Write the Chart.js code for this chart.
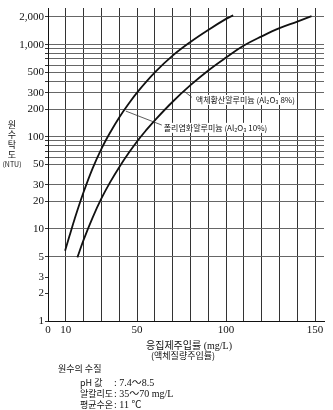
<!DOCTYPE html>
<html>
<head>
<meta charset="utf-8">
<script src="https://cdn.jsdelivr.net/npm/chart.js@4.4.0/dist/chart.umd.min.js"></script>
<style>
  body { margin: 0; background: #fff; }
  #wrap { position: relative; width: 333px; height: 410px; }
  .txt { position: absolute; color: #111; white-space: nowrap; font-family: "Liberation Serif", "Noto Sans CJK KR", serif; }
  .ko { font-family: "Noto Sans CJK KR", sans-serif; }
  .ytitle { left: 4px; top: 120px; width: 16px; font-size: 9px; line-height: 10px; text-align: center; }
  .ytitle .unit { display: block; font-size: 7px; line-height: 9px; margin-left: -2px; margin-right: -2px; }
  .row { left: 80px; font-size: 10px; }
  .row .lab { display: inline-block; width: 34px; font-family: "Noto Sans CJK KR", sans-serif; font-size: 9px; }
</style>
</head>
<body>
<div id="wrap">
  <canvas id="chart" width="333" height="410"></canvas>
  <div class="txt ytitle ko">원<br>수<br>탁<br>도<span class="unit">(NTU)</span></div>
  <div class="txt" style="left:146px;top:337px;font-size:10px;"><span class="ko">응집제주입률</span> (mg/L)</div>
  <div class="txt ko" style="left:151px;top:349px;font-size:9px;">(액체질량주입률)</div>
  <div class="txt ko" style="left:58px;top:362px;font-size:9px;">원수의 수질</div>
  <div class="txt row" style="top:374px;"><span class="lab">pH 값</span>: 7.4〜8.5</div>
  <div class="txt row" style="top:385px;"><span class="lab">알칼리도</span>: 35〜70 mg/L</div>
  <div class="txt row" style="top:396px;"><span class="lab">평균수온</span>: 11 ℃</div>
</div>
<script>
// 폴리염화알루미늄 (PAC) - 위쪽 곡선
const pacDose = [9.6, 12, 15, 20, 25, 30, 35, 40, 45, 50, 60, 70, 80, 90, 100, 104]
const pacTurb = [5.8, 8.3, 12.9, 25.1, 45.2, 74, 112, 162, 224, 302, 500, 760, 1070, 1445, 1905, 2080]

// 액체황산알루미늄 - 아래쪽 곡선
const alumDose = [16.5, 20, 25, 30, 35, 40, 45, 50, 55, 60, 70, 80, 90, 100, 110, 120, 130, 140, 148]
const alumTurb = [4.9, 7.6, 13.2, 21.4, 32.4, 46.8, 65.3, 89, 117, 151, 240, 363, 525, 725, 977, 1230, 1510, 1780, 2040]

const xTicks = [0, 10, 20, 30, 40, 50, 60, 70, 80, 90, 100, 110, 120, 130, 140, 150]
const xLabels = [0, 10, 50, 100, 150]
const yTicks = [1, 2, 3, 5, 10, 20, 30, 50, 60, 70, 80, 90, 100, 200, 300, 400, 500, 600, 700, 800, 900, 1000, 2000]
const yLabels = [1, 2, 3, 5, 10, 20, 30, 50, 100, 200, 300, 500, 1000, 2000]

// 곡선 설명 (데이터 좌표)
const notes = [
  { text: "액체황산알루미늄 (Al₂O₃ 8%)", from: [76.3, 314], to: [80.8, 268], at: [83, 251] },
  { text: "폴리염화알루미늄 (Al₂O₃ 10%)", from: [43.7, 190], to: [63.9, 134], at: [65, 125] },
]

const toPoints = (xs, ys) => xs.map((x, i) => ({ x: x, y: ys[i] }))

const notePlugin = {
  id: "notes",
  afterDatasetsDraw(chart) {
    const { ctx, scales } = chart
    const px = (p) => [scales.x.getPixelForValue(p[0]), scales.y.getPixelForValue(p[1])]
    ctx.save()
    ctx.font = '8px "Noto Sans CJK KR", sans-serif'
    ctx.textBaseline = "middle"
    notes.forEach((n) => {
      const a = px(n.from)
      const b = px(n.to)
      const t = px(n.at)
      const w = ctx.measureText(n.text).width
      ctx.fillStyle = "#fff"
      ctx.fillRect(t[0] - 1, t[1] - 5, w + 2, 10)
      ctx.strokeStyle = "#333"
      ctx.lineWidth = 0.8
      ctx.beginPath()
      ctx.moveTo(a[0], a[1])
      ctx.lineTo(b[0], b[1])
      ctx.stroke()
      ctx.fillStyle = "#111"
      ctx.fillText(n.text, t[0], t[1])
    })
    ctx.restore()
  },
}

const tickFont = { family: '"Liberation Serif", serif', size: 11 }

new Chart(document.getElementById("chart"), {
  type: "line",
  data: {
    datasets: [
      {
        label: "폴리염화알루미늄",
        data: toPoints(pacDose, pacTurb),
        borderColor: "#111",
        borderWidth: 1.8,
        pointRadius: 0,
        tension: 0.4,
      },
      {
        label: "액체황산알루미늄",
        data: toPoints(alumDose, alumTurb),
        borderColor: "#111",
        borderWidth: 1.8,
        pointRadius: 0,
        tension: 0.4,
      },
    ],
  },
  options: {
    responsive: false,
    animation: false,
    layout: { padding: { top: 8, right: 9, left: 0, bottom: 0 } },
    plugins: { legend: { display: false }, tooltip: { enabled: false } },
    scales: {
      x: {
        type: "linear",
        min: 0,
        max: 155,
        afterBuildTicks: (scale) => {
          scale.ticks = xTicks.map((v) => ({ value: v }))
        },
        afterFit: (scale) => {
          scale.height = 89
        },
        border: { color: "#111", width: 1 },
        grid: {
          color: (c) => (c.tick && c.tick.value === 0 ? "rgba(0,0,0,0)" : "#333"),
          drawTicks: false,
        },
        ticks: {
          padding: 3,
          maxRotation: 0,
          autoSkip: false,
          color: "#111",
          font: tickFont,
          callback: (v) => (xLabels.includes(v) ? String(v) : ""),
        },
      },
      y: {
        type: "logarithmic",
        min: 1,
        max: 2500,
        afterBuildTicks: (scale) => {
          scale.ticks = yTicks.map((v) => ({ value: v }))
        },
        afterFit: (scale) => {
          scale.width = 48
        },
        border: { color: "#111", width: 1 },
        grid: {
          color: (c) => (c.tick && c.tick.value <= 3 ? "rgba(0,0,0,0)" : "#666"),
          tickColor: "#333",
          tickLength: 3,
        },
        ticks: {
          padding: 1,
          autoSkip: false,
          color: "#111",
          font: tickFont,
          callback: (v) => (yLabels.includes(v) ? v.toLocaleString("en-US") : ""),
        },
      },
    },
  },
  plugins: [notePlugin],
})
</script>
</body>
</html>
